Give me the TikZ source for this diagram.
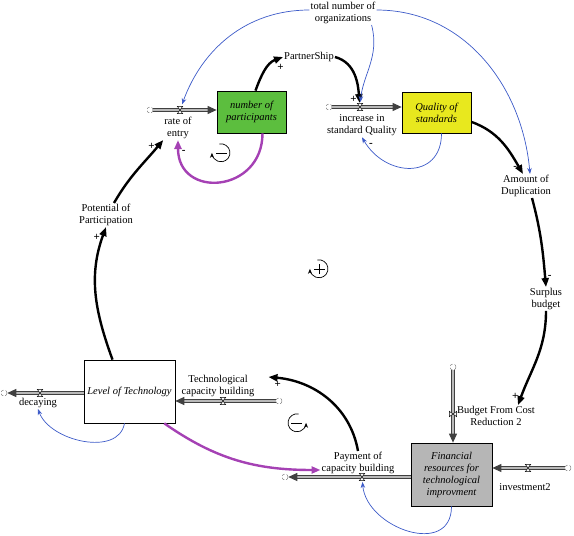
\documentclass[tikz,border=0pt]{standalone}
\usepackage{fontspec}
\setmainfont{Liberation Serif}
\usetikzlibrary{arrows.meta}
\definecolor{gruen}{RGB}{92,190,62}
\definecolor{gelb}{RGB}{232,232,30}
\definecolor{grau}{RGB}{182,182,182}
\definecolor{blau}{RGB}{60,90,200}
\definecolor{lila}{RGB}{165,65,180}
\tikzset{ventil/.pic={\draw[fill=white, line width=0.5pt] (-2.7pt,-3.7pt) -- (2.7pt,-3.7pt) -- (-2.7pt,3.7pt) -- (2.7pt,3.7pt) -- cycle;}}
\begin{document}
\begin{tikzpicture}[x=1pt, y=-1pt, font=\fontsize{10.5}{12}\selectfont,
    bestand/.style={draw, line width=0.7pt, align=center, font=\fontsize{10.5}{12}\selectfont\itshape},
    groesse/.style={align=center, inner sep=1pt},
    wolke/.style={circle, draw=gray, densely dashed, line width=0.5pt, minimum size=6pt, inner sep=0pt},
    fluss/.style={draw=black!75, double=gray!55, double distance=1.6pt, line width=1pt, -{Triangle[length=9pt,width=8pt]}},
    kausal/.style={line width=2.4pt, -{Triangle[length=9pt,width=7pt]}},
    info/.style={draw=blau, line width=0.7pt, -{Stealth[length=6pt,width=4.5pt]}},
    rueck/.style={draw=lila, line width=2.4pt, -{Triangle[length=9pt,width=7pt]}},
    zeichen/.style={font=\fontsize{11}{11}\selectfont\bfseries, inner sep=1.5pt},
    schleife/.style={circle, minimum size=18pt, inner sep=0pt}]
\useasboundingbox (0,0) rectangle (574,536);
% Bestaende
\node[bestand, fill=gruen, minimum width=69, minimum height=42] (teilnehmer) at (251.5,112) {number of\\participants};
\node[bestand, fill=gelb, minimum width=69, minimum height=41] (qualitaet) at (436.5,112.5) {Quality of\\standards};
\node[bestand, fill=white, minimum width=87, minimum height=63] (technik) at (129.5,391.5) {Level of Technology};
\node[bestand, fill=grau, minimum width=81, minimum height=63] (finanz) at (451.5,474.5) {Financial\\resources for\\technological\\improvment};
% Variablen
\node[groesse] (gesamt) at (343,13) {total number of\\organizations};
\node[groesse] (partner) at (309,57) {PartnerShip};
\node[groesse] (eintritt) at (178,128) {rate of\\entry};
\node[groesse] (zuwachs) at (362,125.5) {increase in\\standard Quality};
\node[groesse] (doppel) at (526,186) {Amount of\\Duplication};
\node[groesse] (ueberschuss) at (546,299) {Surplus\\budget};
\node[groesse] (budget) at (496,416) {Budget From Cost\\Reduction 2};
\node[groesse] (investition) at (525,487) {investment2};
\node[groesse] (zahlung) at (358,463) {Payment of\\capacity building};
\node[groesse] (aufbau) at (218,385.5) {Technological\\capacity building};
\node[groesse] (verfall) at (38,403) {decaying};
\node[groesse] (potential) at (106,215) {Potential of\\Participation};
% Wolken und Ventile
\node[wolke] (w1) at (150,110) {};
\node[wolke] (w2) at (329,107) {};
\node[wolke] (w3) at (453,367) {};
\node[wolke] (w4) at (568,468) {};
\node[wolke] (w5) at (285,477) {};
\node[wolke] (w6) at (279,401) {};
\node[wolke] (w7) at (4,393) {};
\coordinate (v1) at (180,110);
\coordinate (v2) at (360,107);
\coordinate (v3) at (453,414);
\coordinate (v4) at (528,468);
\coordinate (v5) at (362,477);
\coordinate (v6) at (223,401);
\coordinate (v7) at (40,393);
% Fluesse
\draw[fluss] (w1) -- (w1 -| teilnehmer.west);
\draw[fluss] (w2) -- (w2 -| qualitaet.west);
\draw[fluss] (w3) -- (w3 |- finanz.north);
\draw[fluss] (w4) -- (w4 -| finanz.east);
\draw[fluss] (finanz.west |- w5) -- (w5);
\draw[fluss] (w6) -- (w6 -| technik.east);
\draw[fluss] (technik.west |- w7) -- (w7);
\foreach \v in {v1,v2,v4,v5,v6,v7} \pic at (\v) {ventil};
\pic[rotate=90] at (v3) {ventil};
% Wirkungen
\draw[kausal] ([xshift=4]teilnehmer.north) to[out=70,in=200] node[zeichen, pos=0.8, below right] {+} (partner.west);
\draw[kausal, shorten >=4pt] (partner.east) to[out=-15,in=95] node[zeichen, pos=0.88, left] {+} (v2);
\draw[kausal] (qualitaet.-15) to[out=-20,in=120] node[zeichen, pos=0.92, left] {-} ([xshift=-3]doppel.north);
\draw[kausal] ([xshift=6]doppel.south) to[out=-75,in=95] node[zeichen, pos=0.9, right] {-} (ueberschuss.north);
\draw[kausal] (ueberschuss.south) to[out=-90,in=70] node[zeichen, pos=0.92, left] {+} ([xshift=22]budget.north);
\draw[kausal] (zahlung.north) to[out=100,in=-5] node[zeichen, pos=0.93, below] {+} ([xshift=13,yshift=8.5]aufbau.east);
\draw[kausal] ([xshift=-17]technik.north) to[out=110,in=-110] node[zeichen, pos=0.93, left] {+} (potential.south);
\draw[kausal] ([xshift=8]potential.north) to[out=60,in=-130] node[zeichen, pos=0.9, left] {+} (eintritt.south west);
% Rueckkopplung
\draw[rueck] ([xshift=11]teilnehmer.south) to[out=-90,in=-90, looseness=1.8] node[zeichen, pos=0.93, right] {-} (eintritt.south);
\draw[rueck] ([xshift=-11]technik.south east) to[out=-35,in=180] ([yshift=-7]zahlung.west);
% Informationen
\draw[info, shorten >=6pt] ([yshift=3]gesamt.west) to[out=180,in=70] (v1);
\draw[info, shorten >=5pt] ([xshift=-5]gesamt.south east) to[out=-75,in=85] (v2);
\draw[info] ([yshift=3]gesamt.east) to[out=0,in=95] ([xshift=4]doppel.north);
\draw[info] ([xshift=5]qualitaet.south) to[out=-90,in=-60, looseness=1.5] node[zeichen, pos=0.93, right] {-} (zuwachs.south);
\draw[info, shorten >=5pt] (finanz.south) to[out=-90,in=-85, looseness=1.4] (v5);
\draw[info] ([xshift=-5]technik.south) to[out=-100,in=-70] (verfall.south);
% Schleifen
\node[schleife] (schleife1) at (221,153) {};
\draw[line width=0.7pt, -{Stealth[length=5pt,width=4pt]}] (schleife1.100) arc[start angle=100, end angle=-180, radius=9pt];
\draw[line width=0.6pt] ([xshift=-5]schleife1.center) -- ([xshift=6]schleife1.center);
\node[schleife] (schleife2) at (297,423) {};
\draw[line width=0.7pt, -{Stealth[length=5pt,width=4pt]}] (schleife2.80) arc[start angle=80, end angle=360, radius=9pt];
\draw[line width=0.6pt] ([xshift=-6]schleife2.center) -- ([xshift=5]schleife2.center);
\node[schleife] (schleife3) at (319,269) {};
\draw[line width=0.7pt, -{Stealth[length=5pt,width=4pt]}] (schleife3.100) arc[start angle=100, end angle=-180, radius=9pt];
\draw[line width=0.6pt] ([xshift=-5]schleife3.center) -- ([xshift=6]schleife3.center);
\draw[line width=0.6pt] ([yshift=-5]schleife3.center) -- ([yshift=5]schleife3.center);
\end{tikzpicture}
\end{document}
